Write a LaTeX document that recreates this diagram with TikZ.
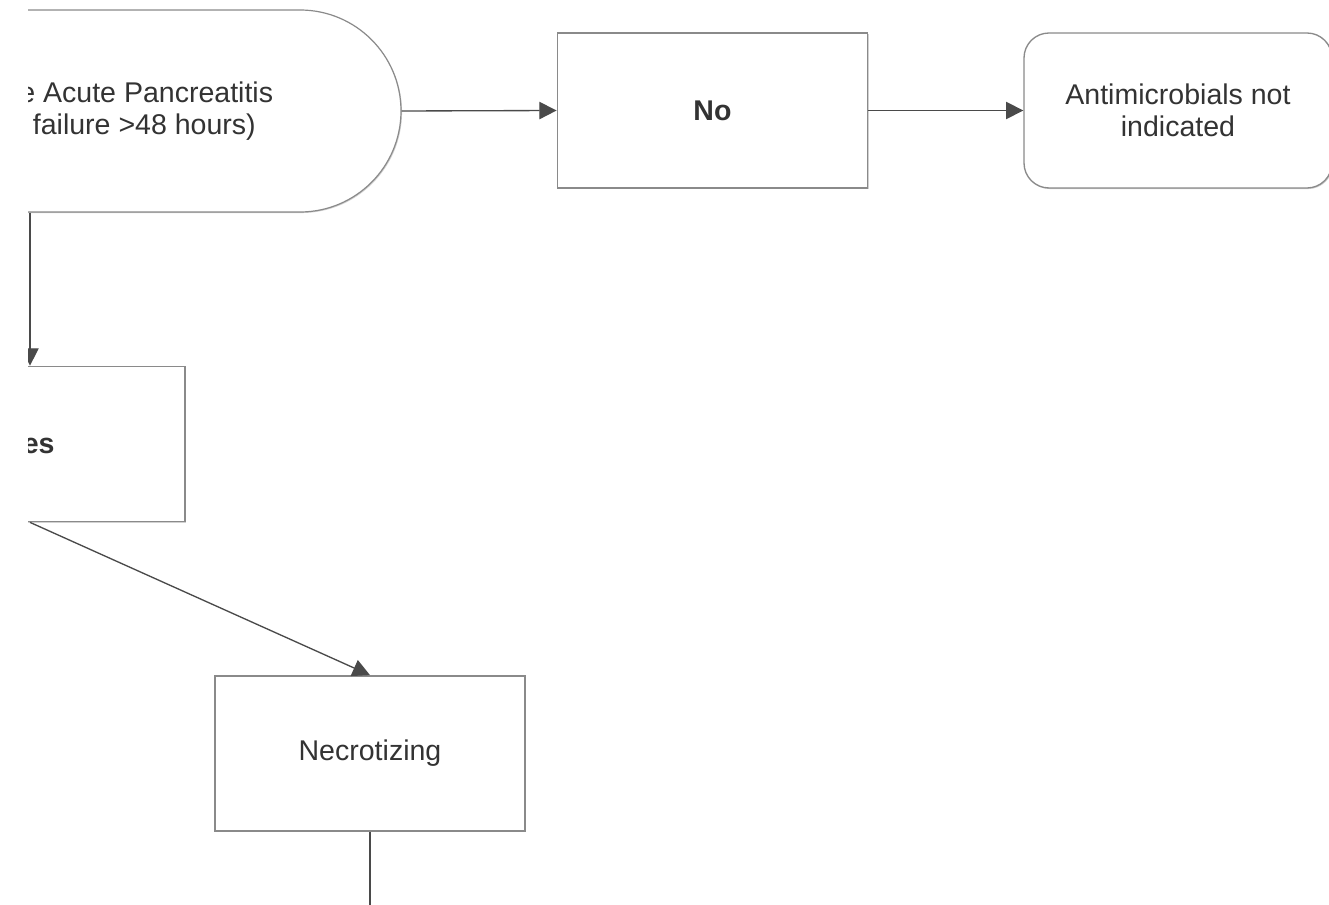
\documentclass[tikz,border=0pt]{standalone}
\usepackage{fontspec}
\setmainfont{Liberation Sans}
\usetikzlibrary{arrows.meta,shadows}
\definecolor{txt}{HTML}{333333}
\definecolor{edge}{HTML}{8A8A8A}
\definecolor{wire}{HTML}{4A4A4A}
\tikzset{
  base/.style={draw=edge, fill=white, text=txt, align=center, inner sep=0pt,
    font=\fontsize{21.4pt}{24pt}\selectfont,
    drop shadow={shadow xshift=0.8pt, shadow yshift=-0.8pt, opacity=0.18, fill=black}},
  stepbox/.style={base, line width=1.3pt, minimum width=232.5pt, minimum height=116.25pt},
  endbox/.style={base, line width=1pt, minimum width=231pt, minimum height=116.25pt, rounded corners=18.75pt},
  startbox/.style={base, line width=0.9pt, minimum width=448.5pt, minimum height=151.5pt, rounded corners=75.75pt},
  conn/.style={draw=wire, line width=1pt, -{Triangle[length=13pt,width=13pt]}},
  plainconn/.style={draw=wire, line width=1pt}
}
\begin{document}
\begin{tikzpicture}[x=0.75pt,y=-0.75pt]
\useasboundingbox (0,0) rectangle (1329,905);
\begin{scope}
\clip (28,-20) rectangle (1340,925);
\node[startbox] (d) at (102,111) {\hspace*{10.5pt}Severe Acute Pancreatitis\\(Organ failure >48 hours)\hspace*{9pt}};
\node[stepbox] (no) at (712.5,110.5) {\bfseries No};
\node[endbox] (anti) at (1178,110.5) {Antimicrobials not\\indicated};
\node[stepbox] (yes) at (30,444) {\bfseries Yes};
\node[stepbox] (nec) at (370,753.5) {Necrotizing};
\coordinate (next) at (370,935);
\draw[conn] (d.east) -- (no.west);
\draw[conn] (no.east) -- (anti.west);
\draw[conn] (d.south -| yes.north) -- (yes.north);
\draw[conn] (yes.south) -- (nec.north);
\draw[plainconn] (nec.south) -- (next);
\end{scope}
\end{tikzpicture}
\end{document}
